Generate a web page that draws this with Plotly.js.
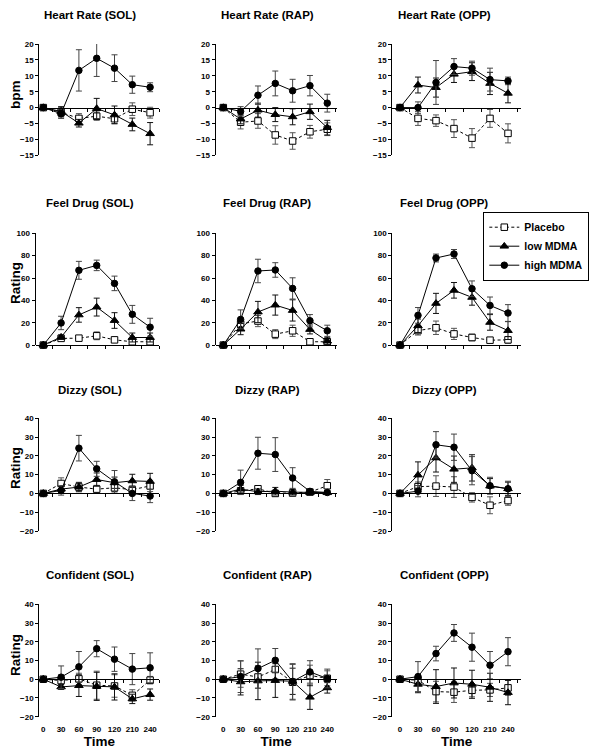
<!DOCTYPE html>
<html><head><meta charset="utf-8">
<script src="https://cdn.plot.ly/plotly-3.0.1.min.js"></script>
<style>html,body{margin:0;padding:0;background:#fff;} #chart{width:601px;height:753px;}</style>
</head><body><div id="chart"></div>
<script>
// ---------- data ----------
const timeLabels = ['0','30','60','90','120','210','240'];
const seriesNames = ['Placebo','low MDMA','high MDMA'];

// Heart Rate (bpm)
const hrSOL_pbo = [0,-1.5,-3.4,-2.7,-3.5,-0.5,-1.6], hrSOL_pboSE = [0,1.5,1.5,1.3,1.5,2,1.7];
const hrSOL_low = [0,-1.2,-4.9,-0.3,-2.3,-5.3,-8.2], hrSOL_lowSE = [0,1.5,1.2,3.2,2.8,2,3.5];
const hrSOL_high = [0,-1.9,11.7,15.5,12.4,7.2,6.4], hrSOL_highSE = [0,1.5,6.5,5.7,4.2,2.7,1.4];
const hrRAP_pbo = [0,-4.6,-4.2,-8.6,-10.5,-7.6,-6.8], hrRAP_pboSE = [0,2.1,2.3,2.9,2.6,2,2];
const hrRAP_low = [0,-3.6,-0.8,-2.2,-2.9,-1.3,-6.3], hrRAP_lowSE = [0,1.5,2.2,2.2,2.5,2.4,2.3];
const hrRAP_high = [0,-1.2,3.9,7.6,5.3,6.9,1.4], hrRAP_highSE = [0,1.5,2.9,3.9,3.6,3.2,2.8];
const hrOPP_pbo = [0,-3.4,-4.1,-6.6,-9.6,-3.4,-8.1], hrOPP_pboSE = [0,2.2,1.8,2.8,3,2.8,3];
const hrOPP_low = [0,7.1,6.3,10.5,11.3,7.6,4.5], hrOPP_lowSE = [0,2.5,3,2.6,2.8,3.5,3];
const hrOPP_high = [0,0,7.9,12.9,12.4,8.8,8.4], hrOPP_highSE = [0,1.8,6.9,2.5,2.2,3.6,1.2];

// Feel Drug (rating)
const fdSOL_pbo = [0,6,6.2,8.3,4.7,3,3], fdSOL_pboSE = [0,2,2,3.5,2,2,2];
const fdSOL_low = [0,7.1,27,34,22,6.8,6.8], fdSOL_lowSE = [0,2,6.5,8,7,4,4];
const fdSOL_high = [0,19.8,66.9,71.3,55.2,27.5,16], fdSOL_highSE = [0,6,8,4.7,6.5,8,8];
const fdRAP_pbo = [0,19,21.5,9.8,12.8,3,3], fdRAP_pboSE = [0,3,5,4,5,2,2];
const fdRAP_low = [0,14.3,29.6,35.8,31,14,3.6], fdRAP_lowSE = [0,5,9.5,9,9.5,4,3];
const fdRAP_high = [0,23,66.3,67.2,50.7,21.8,12.8], fdRAP_highSE = [0,8.5,10.5,6.5,9.5,5.5,5];
const fdOPP_pbo = [0,13,15.5,10,6.8,4.4,4.7], fdOPP_pboSE = [0,4,6,5,3,2,3];
const fdOPP_low = [0,17.3,37.3,49,42.7,20.3,13], fdOPP_lowSE = [0,6,9,7,7,7,8];
const fdOPP_high = [0,26.6,77.9,81.5,50.4,35.5,28.7], fdOPP_highSE = [0,7,3.5,4,7,7.5,7.5];

// Dizzy (rating)
const dzSOL_pbo = [0,5.3,3.4,2.3,3,2,4], dzSOL_pboSE = [0,3,2,2,2,2,3];
const dzSOL_low = [0,2.3,3.4,7.4,5.7,6.7,6.4], dzSOL_lowSE = [0,1.5,2.5,3.5,3,3.5,4.3];
const dzSOL_high = [0,1.6,24.1,13.1,6.2,0,-1.4], dzSOL_highSE = [0,2.5,6.8,4,6,3.8,3.5];
const dzRAP_pbo = [0,1.4,2.5,0,0.2,0.7,4.1], dzRAP_pboSE = [0,1.5,1.5,1.5,1,1,3.3];
const dzRAP_low = [0,2.3,0.9,1.2,0.7,0.5,0.4], dzRAP_lowSE = [0,2,1.5,2,1.5,1,1];
const dzRAP_high = [0,5.9,21.4,20.7,8.2,1.1,0.5], dzRAP_highSE = [0,6.5,8.5,9,5.5,1,1];
const dzOPP_pbo = [0,3.6,3.9,3.4,-2.1,-6.3,-3.8], dzOPP_pboSE = [0,2.5,5.5,5.5,2.5,4.5,2.5];
const dzOPP_low = [0,9.8,18.9,12.9,13.6,3.9,2.5], dzOPP_lowSE = [0,7,7.5,7,7,4,3.5];
const dzOPP_high = [0,1.2,25.9,24.6,12.1,4.1,2.5], dzOPP_highSE = [0,3,7,7,7.5,4.5,4];

// Confident (rating)
const cfSOL_pbo = [0,-0.7,0.2,-3.2,-3.6,-8.6,-0.5], cfSOL_pboSE = [0,3,3,7.5,6,3,2];
const cfSOL_low = [0,-4.1,-3.4,-3.8,-4.1,-10.5,-8.2], cfSOL_lowSE = [0,1.3,5.8,7.5,7,2.5,3];
const cfSOL_high = [0,1.1,6.6,16.3,10.7,5.4,6.1], cfSOL_highSE = [0,6,8.2,4.3,6.5,8.3,8];
const cfRAP_pbo = [0,2.7,1.2,5.2,-1.6,2,0.5], cfRAP_pboSE = [0,7,6,5,9.5,5.5,4];
const cfRAP_low = [0,-1.4,-0.9,-0.7,-1.1,-9.6,-4.6], cfRAP_lowSE = [0,7,10,9,7,6.5,2.8];
const cfRAP_high = [0,1.4,5.7,10.1,-1.2,3.9,0.4], cfRAP_highSE = [0,8.5,10.5,6.3,9.5,6,5];
const cfOPP_pbo = [0,-0.5,-6.6,-6.9,-5.9,-5.7,-4.6], cfOPP_pboSE = [0,2,5.5,5.5,3.5,3.5,4];
const cfOPP_low = [0,-2.7,-3.9,-2,-2.7,-4.3,-7.1], cfOPP_lowSE = [0,4.5,9,8,7.5,7.5,6.5];
const cfOPP_high = [0,1.4,13.7,24.7,17.1,7.5,14.7], cfOPP_highSE = [0,8,3.9,4.5,7.5,7.3,7.5];

const panelTitles = ['Heart Rate (SOL)','Heart Rate (RAP)','Heart Rate (OPP)',
  'Feel Drug (SOL)','Feel Drug (RAP)','Feel Drug (OPP)',
  'Dizzy (SOL)','Dizzy (RAP)','Dizzy (OPP)',
  'Confident (SOL)','Confident (RAP)','Confident (OPP)'];
const rowYTitles = ['bpm','Rating','Rating','Rating'];

// ---------- build ----------
const panelData = [
  [hrSOL_pbo,hrSOL_pboSE,hrSOL_low,hrSOL_lowSE,hrSOL_high,hrSOL_highSE],
  [hrRAP_pbo,hrRAP_pboSE,hrRAP_low,hrRAP_lowSE,hrRAP_high,hrRAP_highSE],
  [hrOPP_pbo,hrOPP_pboSE,hrOPP_low,hrOPP_lowSE,hrOPP_high,hrOPP_highSE],
  [fdSOL_pbo,fdSOL_pboSE,fdSOL_low,fdSOL_lowSE,fdSOL_high,fdSOL_highSE],
  [fdRAP_pbo,fdRAP_pboSE,fdRAP_low,fdRAP_lowSE,fdRAP_high,fdRAP_highSE],
  [fdOPP_pbo,fdOPP_pboSE,fdOPP_low,fdOPP_lowSE,fdOPP_high,fdOPP_highSE],
  [dzSOL_pbo,dzSOL_pboSE,dzSOL_low,dzSOL_lowSE,dzSOL_high,dzSOL_highSE],
  [dzRAP_pbo,dzRAP_pboSE,dzRAP_low,dzRAP_lowSE,dzRAP_high,dzRAP_highSE],
  [dzOPP_pbo,dzOPP_pboSE,dzOPP_low,dzOPP_lowSE,dzOPP_high,dzOPP_highSE],
  [cfSOL_pbo,cfSOL_pboSE,cfSOL_low,cfSOL_lowSE,cfSOL_high,cfSOL_highSE],
  [cfRAP_pbo,cfRAP_pboSE,cfRAP_low,cfRAP_lowSE,cfRAP_high,cfRAP_highSE],
  [cfOPP_pbo,cfOPP_pboSE,cfOPP_low,cfOPP_lowSE,cfOPP_high,cfOPP_highSE]
];

const W = 601, H = 753;
const FONT = 'Liberation Sans, Arial, Helvetica, sans-serif';
// pixel geometry of each column: y-axis x, axis end x, position of first category, category spacing
const cols = [
  {x0:39.3, x1:159.3, first:43.3, sp:17.8, tx:90},
  {x0:215.5, x1:336.7, first:223.3, sp:17.33, tx:267},
  {x0:392.3, x1:521, first:400, sp:18, tx:444}
];
const rows = [
  {top:44, bot:155.3, range:[-15,20], dtick:5, ty:15, yt:95},
  {top:233.3, bot:345.1, range:[0,100], dtick:20, ty:203, yt:283},
  {top:418.3, bot:531, range:[-20,40], dtick:10, ty:390, yt:468},
  {top:604.3, bot:716.7, range:[-20,40], dtick:10, ty:575, yt:655}
];

const idx = timeLabels.map((_, i) => i);
const boundaries = timeLabels.map((_, i) => i + 0.5);
const styles = [
  {symbol:'square', size:6.5, fill:'#fff', dash:'3px,2.5px', ecol:'#555'},
  {symbol:'triangle-up', size:7.5, fill:'#000', dash:'solid', ecol:'#111'},
  {symbol:'circle', size:6.5, fill:'#000', dash:'solid', ecol:'#444'}
];
const tickFont = {family: FONT, size: 8, weight: 'bold', color: '#000000'};

const traces = [];
const layout = {
  width: W, height: H,
  margin: {l:0, r:0, t:0, b:0},
  paper_bgcolor: '#fff', plot_bgcolor: 'rgba(0,0,0,0)',
  font: {family: FONT, color: '#000'},
  showlegend: true,
  legend: {
    x: 483.3 / W, y: 1 - 211.7 / H, xanchor: 'left', yanchor: 'top',
    bgcolor: '#fff', bordercolor: '#000', borderwidth: 1,
    font: {family: FONT, size: 10.5, weight: 'bold', color: '#000'},
    traceorder: 'normal', itemwidth: 30
  },
  annotations: []
};

for (let r = 0; r < 4; r++) {
  for (let c = 0; c < 3; c++) {
    const k = r * 3 + c;
    const n = k + 1;
    const xs = n === 1 ? '' : String(n);
    const ovN = k + 13;
    const col = cols[c], row = rows[r];
    let x0 = col.x0;
    if (r === 1 && c === 0) x0 = 35.5;
    const xr = [(x0 - col.first) / col.sp, (col.x1 - col.first) / col.sp];
    const yd = [1 - row.bot / H, 1 - row.top / H];
    const zeroPos = yd[0] + (0 - row.range[0]) / (row.range[1] - row.range[0]) * (yd[1] - yd[0]);

    layout['xaxis' + xs] = {
      domain: [x0 / W, col.x1 / W], range: xr, anchor: 'y' + xs,
      tickmode: 'array', tickvals: idx, ticktext: timeLabels,
      showticklabels: r === 3, ticks: 'outside', ticklen: 5, tickcolor: 'rgba(0,0,0,0)',
      showline: false, showgrid: false, zeroline: false,
      tickfont: tickFont,
      title: r === 3 ? {text: 'Time', font: {family: FONT, size: 13.5, weight: 'bold', color: '#000'}, standoff: 1} : {text: ''},
      fixedrange: true
    };
    layout['xaxis' + ovN] = {
      overlaying: 'x' + xs, anchor: 'free', position: zeroPos, range: xr,
      tickmode: 'array', tickvals: boundaries, showticklabels: false,
      ticks: 'outside', ticklen: 3, tickwidth: 1, tickcolor: '#000',
      showline: true, linecolor: '#000', linewidth: 1, showgrid: false, zeroline: false,
      fixedrange: true
    };
    layout['yaxis' + xs] = {
      domain: yd, range: row.range, anchor: 'x' + xs, dtick: row.dtick, tick0: 0,
      showline: true, linecolor: '#000', linewidth: 1,
      ticks: 'outside', ticklen: 3, tickcolor: '#000',
      showgrid: false, zeroline: false,
      tickfont: tickFont,
      fixedrange: true
    };
    layout.annotations.push({
      text: panelTitles[k], xref: 'paper', yref: 'paper',
      x: col.tx / W, y: 1 - row.ty / H, xanchor: 'center', yanchor: 'middle',
      showarrow: false, font: {family: FONT, size: 11.5, weight: 'bold', color: '#000'}
    });
    if (c === 0) {
      layout.annotations.push({
        text: rowYTitles[r], xref: 'paper', yref: 'paper', textangle: -90,
        x: 15 / W, y: 1 - row.yt / H, xanchor: 'center', yanchor: 'middle',
        showarrow: false, font: {family: FONT, size: 13.5, weight: 'bold', color: '#000'}
      });
    }

    // dummy trace so the overlay axis (zero line with tick marks) is drawn
    traces.push({type: 'scatter', mode: 'markers', x: [null], y: [null],
      xaxis: 'x' + ovN, yaxis: 'y' + xs, showlegend: false, hoverinfo: 'skip'});

    const d = panelData[k];
    for (let s = 0; s < 3; s++) {
      const st = styles[s];
      traces.push({
        type: 'scatter', mode: 'lines+markers',
        x: idx, y: d[s * 2],
        name: seriesNames[s], legendgroup: seriesNames[s], showlegend: k === 0,
        xaxis: 'x' + xs, yaxis: 'y' + xs,
        line: {color: '#000', width: 1, dash: st.dash},
        marker: {symbol: st.symbol, size: st.size, color: st.fill, line: {color: '#000', width: 1}},
        error_y: {type: 'data', array: d[s * 2 + 1], visible: true, color: st.ecol, thickness: 1, width: 3},
        cliponaxis: false
      });
    }
  }
}

Plotly.newPlot('chart', traces, layout, {displayModeBar: false, staticPlot: true});
</script>
</body></html>
